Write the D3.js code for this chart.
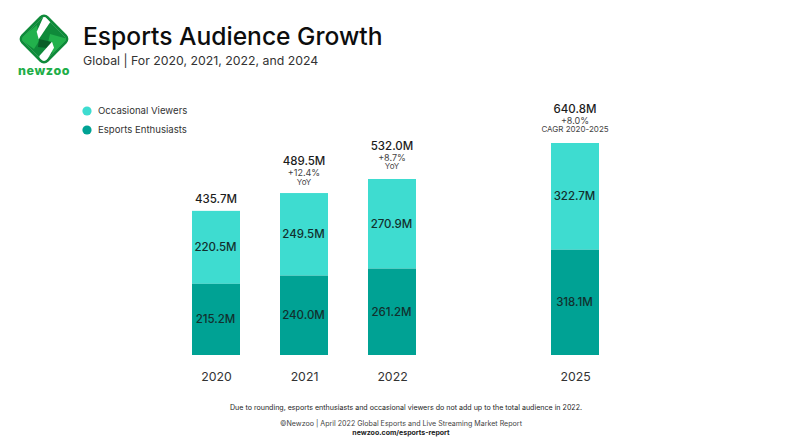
<!DOCTYPE html>
<html>
<head>
<meta charset="utf-8">
<script src="https://cdn.jsdelivr.net/npm/d3@7"></script>
<style>
  html, body { margin: 0; padding: 0; background: #fff; }
  svg { display: block; }
  text { font-family: Inter, "Noto Sans", sans-serif; fill: #1c1c1c; }
</style>
</head>
<body>
<div id="scene"></div>
<script>
var years = ["2020", "2021", "2022", "2025"];
var enthusiasts = [215.2, 240.0, 261.2, 318.1];
var occasional = [220.5, 249.5, 270.9, 322.7];
var totals = ["435.7M", "489.5M", "532.0M", "640.8M"];
var totalValues = [435.7, 489.5, 532.0, 640.8];
var growth = ["", "+12.4%", "+8.7%", "+8.0%"];
var growthNotes = ["", "YoY", "YoY", "CAGR 2020-2025"];
var seriesNames = ["Occasional Viewers", "Esports Enthusiasts"];

var ctx = {
  w: 792,
  h: 443,
  baseline: 355,
  top: 143,
  barW: 48,
  enthusiastColor: "#00a294",
  occasionalColor: "#3edcd0",
  labelColor: "#12302e",
  // text offsets above each bar, they vary a little in the original
  totalOffset: [-8, -28, -29, -30.5],
  growthOffset: [0, -17, -18, -19.5],
  noteOffset: [0, -8, -9.5, -11]
};

var svg = d3.select("#scene").append("svg")
  .attr("width", ctx.w)
  .attr("height", ctx.h);

// the 2025 bar stands apart, so the slots are not evenly spaced
var x = d3.scaleOrdinal()
  .domain(years)
  .range([216, 304, 392, 575]);

var y = d3.scaleLinear()
  .domain([0, 640.8])
  .range([ctx.baseline, ctx.top]);

/******** logo ********/
var logo = svg.append("g").attr("transform", "translate(44,39)");
var addDiamond = function (parent, size, rx, fill) {
  return parent.append("rect")
    .attr("x", -size / 2).attr("y", -size / 2)
    .attr("width", size).attr("height", size)
    .attr("rx", rx)
    .attr("transform", "rotate(45)")
    .attr("fill", fill);
};
addDiamond(logo, 38, 6, "#0f8a3a");
logo.append("clipPath").attr("id", "logoClip").call(function (c) { addDiamond(c, 33, 4, "#000"); });
var logoInner = logo.append("g").attr("clip-path", "url(#logoClip)");
addDiamond(logoInner, 33, 4, "#fff");
logoInner.append("path").attr("d", "M0,-24 L24,0 L0,24 L-24,0 Z").attr("fill", "#0f8a3a");
logoInner.append("path").attr("d", "M-24,0 L-7,-14 L-5,2 L-10,10 Z").attr("fill", "#22b14c");
logoInner.append("path").attr("d", "M6,-5 L24,0 L9,14 L3,8 Z").attr("fill", "#22b14c");
logoInner.append("path").attr("d", "M-5,0 L8,3 L3,9 L-6,8 Z").attr("fill", "#0a5f28");
logoInner.append("path").attr("d", "M0.3,-24 L6.3,-17 L-5.3,0.3 L-7.3,-7.3 Z").attr("fill", "#fff");
logoInner.append("path").attr("d", "M8,2.7 L10,8.7 L1.3,24 L-4,24 L-4.7,17 Z").attr("fill", "#fff");
svg.append("text")
  .attr("x", 44).attr("y", 75)
  .attr("text-anchor", "middle")
  .attr("font-size", 12.5)
  .attr("font-weight", 800)
  .attr("letter-spacing", 0.6)
  .style("fill", "#1fae49")
  .text("newzoo");

/******** titles ********/
svg.append("text")
  .attr("x", 83).attr("y", 45)
  .attr("font-size", 24.6)
  .attr("font-weight", 500)
  .style("fill", "#0d0d0d")
  .text("Esports Audience Growth");
svg.append("text")
  .attr("x", 83).attr("y", 65)
  .attr("font-size", 12.3)
  .style("fill", "#333")
  .text("Global | For 2020, 2021, 2022, and 2024");

/******** legend ********/
var legendColors = [ctx.occasionalColor, ctx.enthusiastColor];
var legend = svg.selectAll(".legend")
  .data(seriesNames)
  .enter()
  .append("g")
  .attr("class", "legend")
  .attr("transform", function (d, i) { return "translate(87," + (111 + i * 19) + ")"; });
legend.append("circle")
  .attr("r", 4.6)
  .attr("fill", function (d, i) { return legendColors[i]; });
legend.append("text")
  .attr("x", 11)
  .attr("dy", "0.35em")
  .attr("font-size", 9.6)
  .style("fill", "#333")
  .text(function (d) { return d; });

/******** bars ********/
var rows = years.map(function (year, i) {
  return { year: year, enthusiasts: enthusiasts[i], occasional: occasional[i], total: totalValues[i], i: i };
});

// top segment reaches the reported total (parts do not add up in 2022)
svg.selectAll(".occasional")
  .data(rows)
  .enter()
  .append("rect")
  .attr("class", "occasional")
  .attr("x", function (d) { return x(d.year) - ctx.barW / 2; })
  .attr("y", function (d) { return y(d.total); })
  .attr("width", ctx.barW)
  .attr("height", function (d) { return y(d.enthusiasts) - y(d.total); })
  .attr("fill", ctx.occasionalColor);

svg.selectAll(".enthusiasts")
  .data(rows)
  .enter()
  .append("rect")
  .attr("class", "enthusiasts")
  .attr("x", function (d) { return x(d.year) - ctx.barW / 2; })
  .attr("y", function (d) { return y(d.enthusiasts); })
  .attr("width", ctx.barW)
  .attr("height", function (d) { return ctx.baseline - y(d.enthusiasts); })
  .attr("fill", ctx.enthusiastColor);

/******** bar labels ********/
var addLabels = function (cls, midY, textFn) {
  svg.selectAll("." + cls)
    .data(rows)
    .enter()
    .append("text")
    .attr("class", cls)
    .attr("x", function (d) { return x(d.year) - 0.5; })
    .attr("y", midY)
    .attr("dy", "0.35em")
    .attr("text-anchor", "middle")
    .attr("font-size", 11.5)
    .attr("font-weight", 500)
    .style("fill", ctx.labelColor)
    .text(textFn);
};
addLabels("lowLabel", function (d) { return y(d.enthusiasts / 2); }, function (d) { return d.enthusiasts.toFixed(1) + "M"; });
addLabels("highLabel", function (d) { return y(d.enthusiasts + (d.total - d.enthusiasts) / 2); }, function (d) { return d.occasional.toFixed(1) + "M"; });

var head = svg.selectAll(".head")
  .data(rows)
  .enter()
  .append("g")
  .attr("class", "head")
  .attr("transform", function (d) { return "translate(" + x(d.year) + "," + y(d.total) + ")"; });
head.append("text")
  .attr("text-anchor", "middle")
  .attr("y", function (d) { return ctx.totalOffset[d.i]; })
  .attr("font-size", 11.5)
  .attr("font-weight", 500)
  .text(function (d) { return totals[d.i]; });
head.append("text")
  .attr("text-anchor", "middle")
  .attr("y", function (d) { return ctx.growthOffset[d.i]; })
  .attr("font-size", 9)
  .style("fill", "#444")
  .text(function (d) { return growth[d.i]; });
head.append("text")
  .attr("text-anchor", "middle")
  .attr("y", function (d) { return ctx.noteOffset[d.i]; })
  .attr("font-size", 8)
  .style("fill", "#444")
  .text(function (d) { return growthNotes[d.i]; });

/******** x axis ********/
var axis = svg.append("g")
  .attr("transform", "translate(0," + ctx.baseline + ")")
  .call(d3.axisBottom(x).tickSize(0).tickPadding(13));
axis.select(".domain").remove();
axis.selectAll("text")
  .attr("font-size", 12.3)
  .attr("dy", "1.05em")
  .style("font-family", "Inter, sans-serif")
  .style("fill", "#333");

/******** footer ********/
svg.append("text")
  .attr("x", 406).attr("y", 409.5)
  .attr("text-anchor", "middle")
  .attr("font-size", 7.1)
  .text("Due to rounding, esports enthusiasts and occasional viewers do not add up to the total audience in 2022.");
svg.append("text")
  .attr("x", 401).attr("y", 425.5)
  .attr("text-anchor", "middle")
  .attr("font-size", 7.1)
  .style("fill", "#444")
  .text("©Newzoo | April 2022 Global Esports and Live Streaming Market Report");
svg.append("text")
  .attr("x", 401).attr("y", 434.5)
  .attr("text-anchor", "middle")
  .attr("font-size", 7)
  .attr("font-weight", 700)
  .text("newzoo.com/esports-report");
</script>
</body>
</html>
